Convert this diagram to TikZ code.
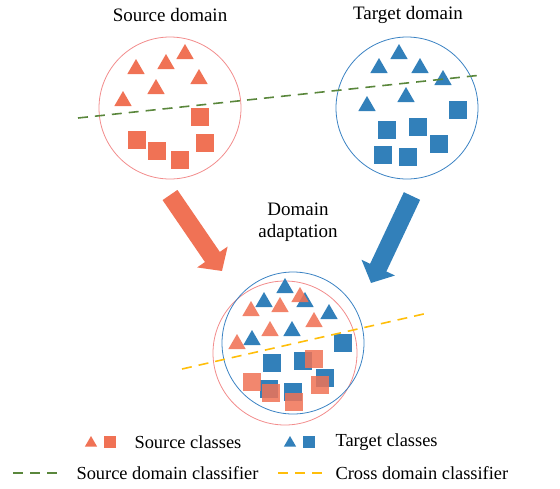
\documentclass[tikz,border=0pt]{standalone}
\usepackage{fontspec}
\setmainfont{Liberation Serif}
\usetikzlibrary{shapes.geometric,arrows.meta}
\definecolor{srcc}{RGB}{240,114,85}
\definecolor{tgtc}{RGB}{50,128,186}
\definecolor{srcring}{RGB}{242,140,140}
\definecolor{tgtring}{RGB}{58,130,195}
\definecolor{srcclf}{RGB}{90,135,60}
\definecolor{crossclf}{RGB}{255,190,10}
\tikzset{>=stealth,
  tri/.style={regular polygon,regular polygon sides=3,minimum size=20pt,inner sep=0pt},
  sq/.style={rectangle,minimum size=18pt,inner sep=0pt},
  srctri/.style={tri,fill=srcc},
  srcsq/.style={sq,fill=srcc},
  tgttri/.style={tri,fill=tgtc},
  tgtsq/.style={sq,fill=tgtc},
  ring/.style={circle,inner sep=0pt,line width=0.8pt},
  lbl/.style={font=\fontsize{19}{22}\selectfont},
  leg/.style={font=\fontsize{18.4}{21}\selectfont,anchor=west},
  fatarrow/.style={line width=18pt,-{Triangle[width=36pt,length=17pt]}},
  clf/.style={line width=1.6pt,dash pattern=on 10pt off 7pt}
}

\begin{document}
\begin{tikzpicture}[x=1pt,y=-1pt]
    \useasboundingbox (0,0) rectangle (560,488);
    \node[lbl] at (170,15)   (srctitle) {Source domain};
    \node[lbl] at (408,15)   (tgttitle) {Target domain};
    \node[lbl,align=center] at (298,222) (adapt) {Domain\\adaptation};

    % source domain
    \node[ring,draw=srcring,minimum size=142pt] at (170,108) (srcdom) {};
    \foreach \x/\y [count=\i] in {136/69,166/64,185/54,199/79,156/89,123/101}
      \node[srctri] at (\x,\y) (st\i) {};
    \foreach \x/\y [count=\i] in {200/117,137/140,157/151,180/160,205/143}
      \node[srcsq] at (\x,\y) (ss\i) {};

    % target domain
    \node[ring,draw=tgtring,minimum size=142pt] at (407,108) (tgtdom) {};
    \foreach \x/\y [count=\i] in {399/54,379/68,420/68,443/80,406/97,367/106}
      \node[tgttri] at (\x,\y) (tt\i) {};
    \foreach \x/\y [count=\i] in {458/110,387/130,418/127,439/144,383/155,408/157}
      \node[tgtsq] at (\x,\y) (ts\i) {};

    \coordinate (sc1) at (78,118);
    \coordinate (sc2) at (482,75);
    \draw[clf,srcclf] (sc1)--(sc2);

    % adaptation arrows
    \coordinate (sa1) at (170,195);
    \coordinate (sa2) at (222,271);
    \coordinate (ta1) at (412,196);
    \coordinate (ta2) at (371,283);
    \draw[fatarrow,srcc] (sa1)--(sa2);
    \draw[fatarrow,tgtc] (ta1)--(ta2);

    % adapted domain
    \node[ring,draw=srcring,minimum size=144pt] at (285,353) (mixsrc) {};
    \node[ring,draw=tgtring,minimum size=142pt] at (293,343) (mixtgt) {};
    \foreach \x/\y [count=\i] in {285/288,264/302,305/302,329/314,292/331,252/340}
      \node[tgttri] at (\x,\y) (mt\i) {};
    \foreach \x/\y [count=\i] in {343/343,272/363,303/361,325/378,269/389,293/392}
      \node[tgtsq] at (\x,\y) (ms\i) {};
    \foreach \x/\y [count=\i] in {300/297,251/311,280/307,314/322,270/331,237/344}
      \node[srctri,fill opacity=0.88] at (\x,\y) (nt\i) {};
    \foreach \x/\y [count=\i] in {314/359,252/382,271/393,320/385,294/402}
      \node[srcsq,fill opacity=0.85] at (\x,\y) (ns\i) {};

    \coordinate (cc1) at (182,369);
    \coordinate (cc2) at (428,313);
    \draw[clf,crossclf] (cc1)--(cc2);

    % legend
    \node[tri,minimum size=14pt,fill=srcc] at (91,443) (ltri1) {};
    \node[sq,minimum size=12pt,fill=srcc] at (110,442) (lsq1) {};
    \node[leg] at (131,442) (lsrc) {Source classes};
    \node[tri,minimum size=14pt,fill=tgtc] at (290,443) (ltri2) {};
    \node[sq,minimum size=12pt,fill=tgtc] at (309,442) (lsq2) {};
    \node[leg] at (332,442) (ltgt) {Target classes};
    \coordinate (l1a) at (13,473);
    \coordinate (l1b) at (64,473);
    \draw[clf,srcclf] (l1a)--(l1b);
    \node[leg] at (73,473) (lsclf) {Source domain classifier};
    \coordinate (l2a) at (278,473);
    \coordinate (l2b) at (329,473);
    \draw[clf,crossclf] (l2a)--(l2b);
    \node[leg] at (332,473) (lxclf) {Cross domain classifier};
\end{tikzpicture}
\end{document}
